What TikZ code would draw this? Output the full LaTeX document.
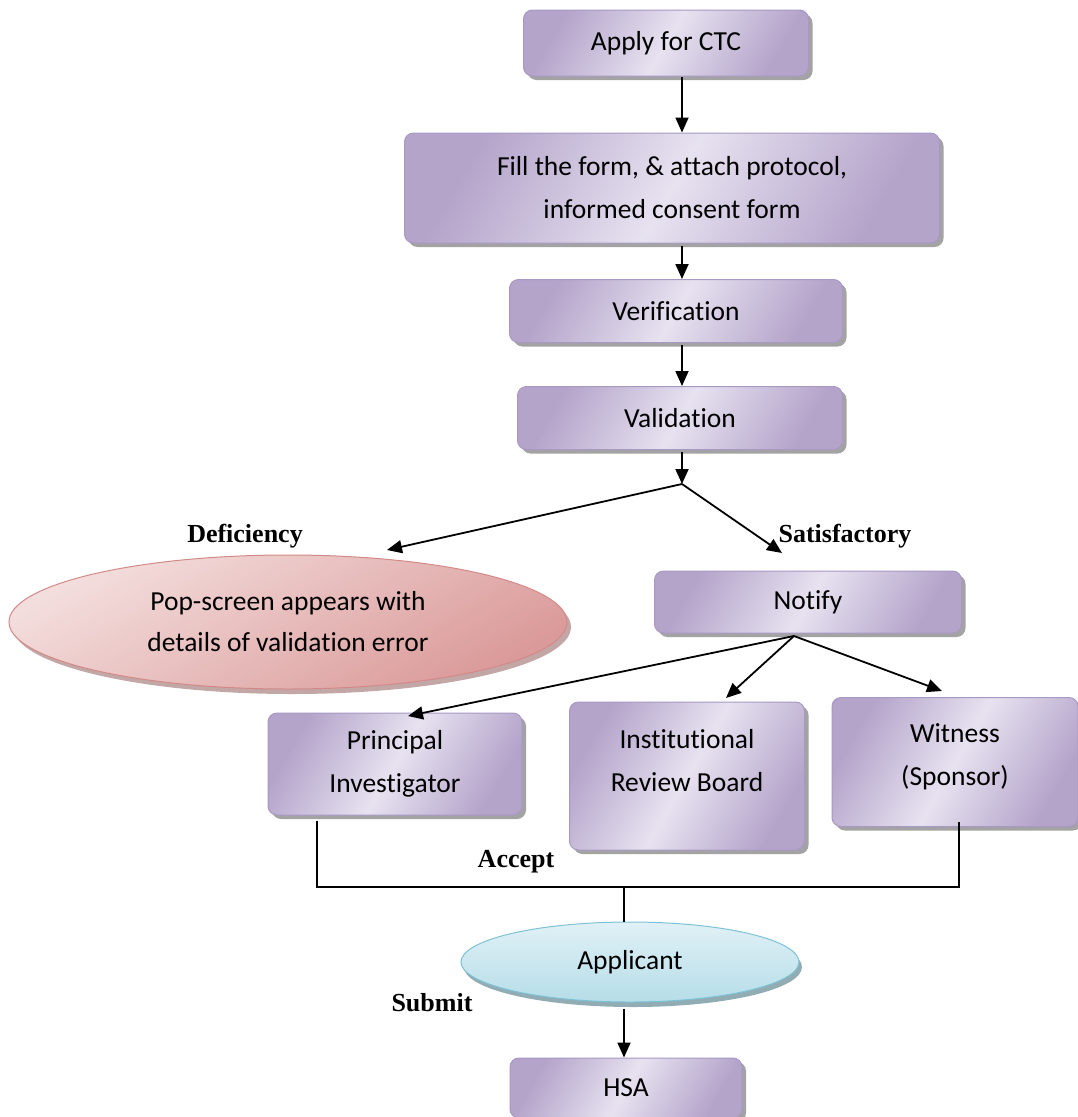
\documentclass[tikz,border=0pt]{standalone}
\usepackage{fontspec}
\setmainfont{Carlito}[Ligatures=NoCommon]
\newfontfamily\lblfont{Liberation Serif}
\usetikzlibrary{shapes.geometric,shadows,arrows.meta}
\definecolor{purpdark}{HTML}{B4A4CA}
\definecolor{purplight}{HTML}{E7E2F0}
\definecolor{purpedge}{HTML}{A898C4}
\definecolor{pinkdark}{HTML}{DA9A99}
\definecolor{pinklight}{HTML}{F3DEDD}
\definecolor{pinkedge}{HTML}{D28A88}
\definecolor{cyandark}{HTML}{B6DDE8}
\definecolor{cyanlight}{HTML}{E0F1F6}
\definecolor{cyanedge}{HTML}{7CC2D5}
\tikzset{
  procbox/.style={draw=purpedge, line width=1pt, rounded corners=9pt,
    left color=purpdark, right color=purpdark, middle color=purplight, shading angle=60,
    drop shadow={shadow xshift=4pt, shadow yshift=-4pt, fill=black!45, opacity=0.8},
    font=\fontsize{27.5}{43}\selectfont, align=center, inner sep=0pt},
  popell/.style={ellipse, draw=pinkedge, line width=1pt,
    left color=pinklight, right color=pinkdark, shading angle=30,
    drop shadow={shadow xshift=4pt, shadow yshift=-5pt, fill=pinkdark!70!black, opacity=0.6},
    font=\fontsize{27.5}{41}\selectfont, align=center, inner sep=0pt},
  appell/.style={ellipse, draw=cyanedge, line width=1pt,
    top color=cyanlight, bottom color=cyandark,
    drop shadow={shadow xshift=3pt, shadow yshift=-5pt, fill=cyanedge!60!black, opacity=0.6},
    font=\fontsize{27.5}{41}\selectfont, align=center, inner sep=0pt},
  lbl/.style={font=\lblfont\bfseries\fontsize{26}{30}\selectfont, inner sep=0pt},
  arr/.style={line width=1.8pt, -{Triangle[length=15pt,width=13pt]}},
  ln/.style={line width=1.3pt}
}
\begin{document}
\begin{tikzpicture}[x=1pt,y=-1pt]
\useasboundingbox (0,0) rectangle (1078,1117);
% boxes
\node[procbox, minimum width=285pt, minimum height=66pt] (apply) at (666,43) {Apply for CTC};
\node[procbox, minimum width=535pt, minimum height=110pt] (fill) at (672,188) {Fill the form, \& attach protocol,\\informed consent form};
\node[procbox, minimum width=333pt, minimum height=63pt] (verif) at (676,311) {Verification};
\node[procbox, minimum width=325pt, minimum height=63pt] (valid) at (680,418) {Validation};
\node[popell, minimum width=558pt, minimum height=134pt] (pop) at (288,622) {Pop-screen appears with\\details of validation error};
\node[procbox, minimum width=307pt, minimum height=62pt] (notify) at (808,602) {Notify};
\node[procbox, minimum width=254pt, minimum height=102pt] (pi) at (395,764) {Principal\\Investigator};
\node[procbox, minimum width=235pt, minimum height=148pt, text depth=32pt] (irb) at (687,776) {Institutional\\Review Board};
\node[procbox, minimum width=246pt, minimum height=129pt, text depth=14pt] (wit) at (955,762) {Witness\\(Sponsor)};
\node[appell, minimum width=338pt, minimum height=80pt] (app) at (630,962) {Applicant};
\node[procbox, minimum width=232pt, minimum height=60pt] (hsa) at (626,1088) {HSA};
% labels
\node[lbl] (ldef) at (245,536) {Deficiency};
\node[lbl] (lsat) at (845,536) {Satisfactory};
\node[lbl] (lacc) at (516,862) {Accept};
\node[lbl] (lsub) at (432,1003) {Submit};
% coordinates
\coordinate (j1) at (682,484);
\coordinate (j2) at (794,636);
\coordinate (defend) at (387,550);
\coordinate (satend) at (782,553);
\coordinate (piend) at (408,716);
\coordinate (irbend) at (726,698);
\coordinate (witend) at (942,691);
\coordinate (bl) at (317,887);
\coordinate (br) at (959,887);
\coordinate (bm) at (624,887);
% connectors
\draw[arr] (apply.south -| 682,0) -- (fill.north -| 682,0);
\draw[arr] (fill.south -| 682,0) ++(0,2) -- (verif.north -| 682,0);
\draw[arr] (verif.south -| 682,0) ++(0,2) -- (valid.north -| 682,0);
\draw[arr] (valid.south -| 682,0) ++(0,2) -- (j1);
\draw[arr] (j1) -- (defend);
\draw[arr] (j1) -- (satend);
\draw[arr] (j2) -- (piend);
\draw[arr] (j2) -- (irbend);
\draw[arr] (j2) -- (witend);
\draw[ln] (pi.south -| bl) ++(0,5) -- (bl) -- (br) -- ++(0,-65);
\draw[ln] (bm) -- (app.north -| bm);
\draw[arr] (app.south -| 624,0) ++(0,6) -- (hsa.north -| 624,0);
\end{tikzpicture}
\end{document}
